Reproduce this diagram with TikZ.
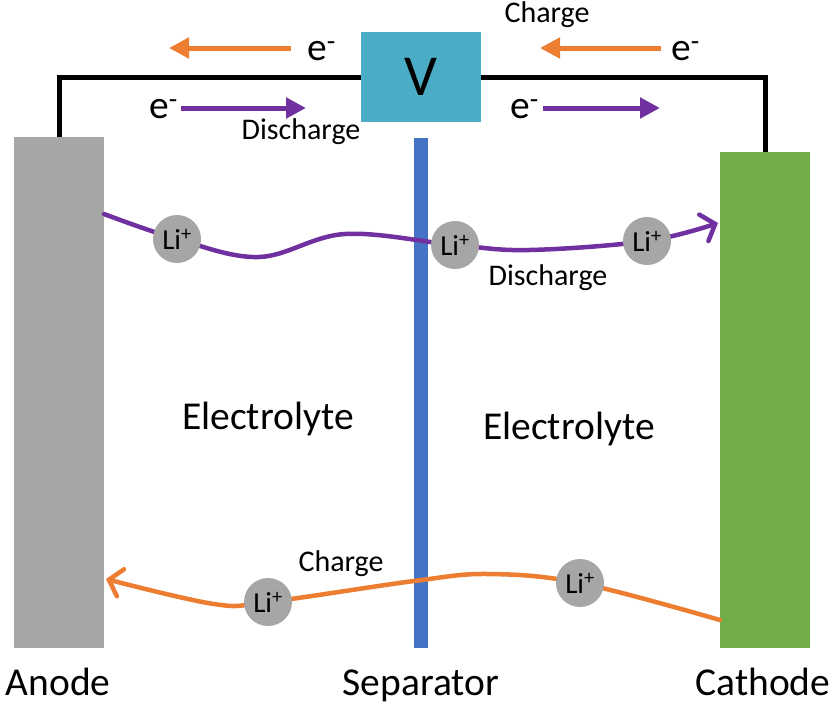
\documentclass[tikz,border=0pt]{standalone}
\usepackage{fontspec}
\setmainfont{Carlito}
\usetikzlibrary{arrows.meta}

\definecolor{anodegray}{HTML}{A6A6A6}
\definecolor{cathodegreen}{HTML}{70AD47}
\definecolor{sepblue}{HTML}{4472C4}
\definecolor{voltteal}{HTML}{4BACC6}
\definecolor{chargeorange}{HTML}{ED7D31}
\definecolor{dischargepurple}{HTML}{7030A0}

\begin{document}
\begin{tikzpicture}[
        x=1pt, y=-1pt,
        >={Triangle[length=20pt,width=20pt]},
        plate/.style={inner sep=0pt, minimum width=90pt, minimum height=511pt},
        ion/.style={circle, fill=anodegray, inner sep=0pt, minimum size=48pt, font=\fontsize{29}{30}\selectfont},
        big/.style={inner sep=0pt, font=\fontsize{39.5}{41}\selectfont},
        small/.style={inner sep=0pt, font=\fontsize{30}{31}\selectfont},
        wire/.style={line width=5pt},
        earrow/.style={line width=5pt, ->},
        flow/.style={line width=4.5pt, line cap=round, -{Straight Barb[length=12pt,width=28pt,line cap=round]}},
        ]
        \useasboundingbox (0,0) rectangle (835,705);

        % Electrodes and separator
        \node[plate, fill=anodegray] (anode) at (59,392.5) {};
        \node[plate, fill=cathodegreen, minimum height=496pt] (cathode) at (765,400) {};
        \node[plate, fill=sepblue, minimum width=14pt, minimum height=510pt] (separator) at (421,393) {};

        % Voltmeter and wire
        \node[fill=voltteal, inner sep=0pt, minimum width=120pt, minimum height=90pt,
              font=\fontsize{58}{60}\selectfont] (volt) at (421,77) {V};
        \draw[wire] (anode.north) |- (volt.west);
        \draw[wire] (volt.east) -| (cathode.north);

        % Electrons
        \node[big, anchor=base west] (eCL) at (307,60) {e\textsuperscript{-}};
        \node[big, anchor=base west] (eCR) at (671,60) {e\textsuperscript{-}};
        \node[big, anchor=base west] (eDL) at (149,118) {e\textsuperscript{-}};
        \node[big, anchor=base west] (eDR) at (510,118) {e\textsuperscript{-}};
        \coordinate (cl1) at (291,48);  \coordinate (cl2) at (169,48);
        \coordinate (cr1) at (661,48);  \coordinate (cr2) at (540,48);
        \coordinate (dl1) at (181,108); \coordinate (dl2) at (306,108);
        \coordinate (dr1) at (543,108); \coordinate (dr2) at (660,108);
        \draw[earrow, chargeorange] (cl1) -- (cl2);
        \draw[earrow, chargeorange] (cr1) -- (cr2);
        \draw[earrow, dischargepurple] (dl1) -- (dl2);
        \draw[earrow, dischargepurple] (dr1) -- (dr2);
        \node[small] (chargetop) at (547,15) {Charge};
        \node[small] (dischargetop) at (301,132) {Discharge};

        % Ion paths
        \coordinate (p1) at (177,239);
        \coordinate (p2) at (455,245);
        \coordinate (p3) at (647,241);
        \coordinate (p4) at (268,602);
        \coordinate (p5) at (580,583);
        \coordinate (dstart) at (104,214);
        \coordinate (dend) at (718,223);
        \coordinate (cstart) at (720,620);
        \coordinate (cend) at (106,579);
        \draw[flow, dischargepurple] plot[smooth, tension=0.6] coordinates
            {(dstart) (p1) (259,257) (345,234) (p2) (529,250) (p3) (dend)};
        \draw[flow, chargeorange] plot[smooth, tension=0.6] coordinates
            {(cstart) (p5) (488,574) (414,581) (p4) (214,604) (cend)};

        % Li ions
        \node[ion] (li1) at (p1) {Li\textsuperscript{+}};
        \node[ion] (li2) at (p2) {Li\textsuperscript{+}};
        \node[ion] (li3) at (p3) {Li\textsuperscript{+}};
        \node[ion] (li4) at (p4) {Li\textsuperscript{+}};
        \node[ion] (li5) at (p5) {Li\textsuperscript{+}};
        \node[small] (dischargemid) at (548,278) {Discharge};
        \node[small] (chargebot) at (341,564) {Charge};

        % Labels
        \node[big, anchor=base] (electrolyteL) at (268,429) {Electrolyte};
        \node[big, anchor=base] (electrolyteR) at (569,439) {Electrolyte};
        \node[big, anchor=base] (anodelabel) at (58,695) {Anode};
        \node[big, anchor=base] (seplabel) at (421,695) {Separator};
        \node[big, anchor=base] (cathodelabel) at (763,695) {Cathode};
\end{tikzpicture}
\end{document}
